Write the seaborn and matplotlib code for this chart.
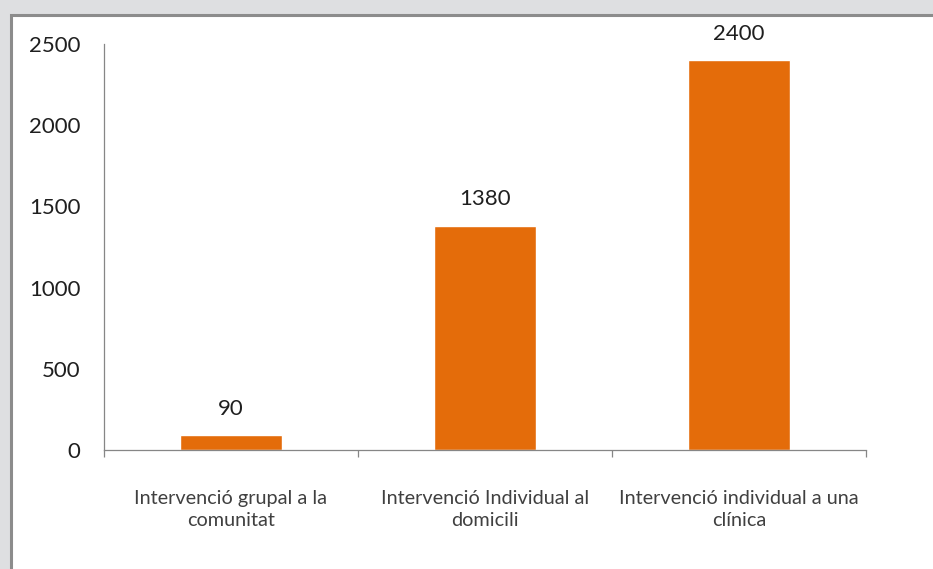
import matplotlib
matplotlib.use("Agg")
import matplotlib.pyplot as plt
from matplotlib.patches import Rectangle
from matplotlib.ticker import FixedLocator
import seaborn as sns
import pandas as pd

categories = ["Intervenció grupal a la\ncomunitat",
              "Intervenció Individual al\ndomicili",
              "Intervenció individual a una\nclínica"]
values = [90, 1380, 2400]
y_ticks = [0, 500, 1000, 1500, 2000, 2500]

sns.set_theme(style="white")
plt.rcParams['font.family'] = ['Lato', 'DejaVu Sans']

W, H = 933, 569
fig = plt.figure(figsize=(W / 100, H / 100), dpi=100)
fig.patch.set_facecolor("#dedfe1")

# white panel with grey border
top = 1 - 15.5 / H
panel = Rectangle((10.5 / W, -0.1), 1.0, top + 0.1, transform=fig.transFigure,
                  facecolor="white", edgecolor="#8c8c8c", linewidth=2.2, zorder=-10)
fig.patches.append(panel)

ax = fig.add_axes([104 / W, 1 - 450 / H, (866 - 104) / W, (450 - 44) / H])
ax.set_zorder(5)
ax.set_facecolor("none")

df = pd.DataFrame({"cat": categories, "val": values})
sns.barplot(data=df, x="cat", y="val", color="#e46c0a", width=0.4,
            saturation=1, ax=ax)

ax.set_xlim(-0.5, 2.5)
ax.set_ylim(0, 2500)
ax.set_yticks(y_ticks)
ax.set_xlabel("")
ax.set_ylabel("")

for s in ["top", "right"]:
    ax.spines[s].set_visible(False)
for s in ["left", "bottom"]:
    ax.spines[s].set_color("#868686")
    ax.spines[s].set_linewidth(0.9)

ax.tick_params(axis="y", length=0, pad=17, labelsize=16, labelcolor="#1f1f1f")
ax.tick_params(axis="x", which="major", length=0, pad=28.5, labelsize=14.3,
               labelcolor="#404040")
ax.xaxis.set_minor_locator(FixedLocator([-0.5, 0.5, 1.5, 2.5]))
ax.tick_params(axis="x", which="minor", length=5, width=0.9, color="#868686",
               direction="out", bottom=True)
for lbl in ax.get_xticklabels():
    lbl.set_linespacing(1.38)

for c in ax.containers:
    ax.bar_label(c, labels=[str(v) for v in values], padding=12, fontsize=16,
                 color="#1f1f1f")

fig.savefig("out.png", dpi=100, facecolor=fig.get_facecolor())
